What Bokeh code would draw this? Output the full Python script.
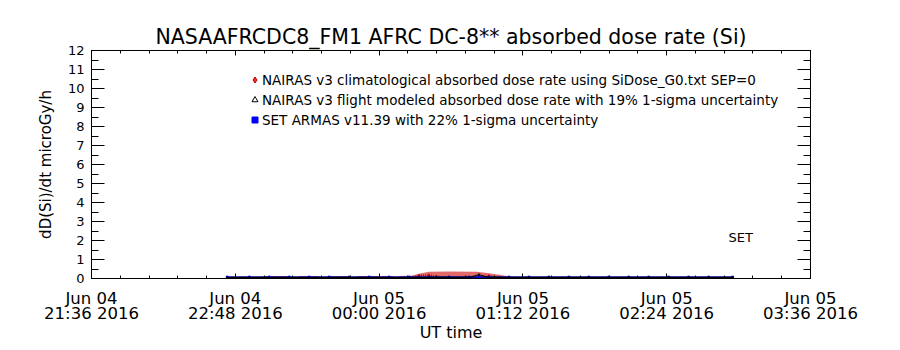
import pandas as pd
from bokeh.plotting import figure
from bokeh.models import (FixedTicker, LinearAxis, DatetimeAxis, Legend, LegendItem,
                          ColumnDataSource, Range1d, CustomLabelingPolicy)
from bokeh.embed import file_html
from bokeh.resources import INLINE
from bokeh.core.properties import value

title_text = "NASAAFRCDC8_FM1 AFRC DC-8** absorbed dose rate (Si)"
x_label = "UT time"
y_label = "dD(Si)/dt microGy/h"

x_ticks = ["2016-06-04 21:36", "2016-06-04 22:48", "2016-06-05 00:00",
           "2016-06-05 01:12", "2016-06-05 02:24", "2016-06-05 03:36"]
x_tick_labels = ["Jun 04\n21:36 2016", "Jun 04\n22:48 2016", "Jun 05\n00:00 2016",
                 "Jun 05\n01:12 2016", "Jun 05\n02:24 2016", "Jun 05\n03:36 2016"]
y_ticks = [0, 1, 2, 3, 4, 5, 6, 7, 8, 9, 10, 11, 12]

legend_labels = [
    "NAIRAS v3 climatological absorbed dose rate using SiDose_G0.txt SEP=0",
    "NAIRAS v3 flight modeled absorbed dose rate with 19% 1-sigma uncertainty",
    "SET ARMAS v11.39 with 22% 1-sigma uncertainty",
]

# NAIRAS climatological uncertainty band (upper edge)
band_times = ["2016-06-04 22:44", "2016-06-04 23:02", "2016-06-04 23:02", "2016-06-04 23:15",
              "2016-06-04 23:15", "2016-06-04 23:20", "2016-06-04 23:20", "2016-06-04 23:30",
              "2016-06-04 23:30", "2016-06-04 23:35", "2016-06-04 23:35", "2016-06-04 23:44",
              "2016-06-04 23:44", "2016-06-04 23:49", "2016-06-04 23:49", "2016-06-05 00:07",
              "2016-06-05 00:07", "2016-06-05 00:10", "2016-06-05 00:10", "2016-06-05 00:16",
              "2016-06-05 00:20", "2016-06-05 00:25", "2016-06-05 00:35", "2016-06-05 00:49",
              "2016-06-05 00:55", "2016-06-05 01:00", "2016-06-05 01:03", "2016-06-05 01:06",
              "2016-06-05 01:06", "2016-06-05 02:57"]
band_upper = [0.05, 0.05, 0.13, 0.13,
              0.05, 0.05, 0.13, 0.13,
              0.05, 0.05, 0.13, 0.13,
              0.05, 0.05, 0.13, 0.13,
              0.05, 0.05, 0.13, 0.14,
              0.25, 0.36, 0.37, 0.36,
              0.28, 0.2, 0.14, 0.12,
              0.05, 0.05]
band_lower = [0.0, 0.0, 0.0, 0.0, 0.0, 0.0, 0.0, 0.0, 0.0, 0.0,
              0.0, 0.0, 0.0, 0.0, 0.0, 0.0, 0.0, 0.0, 0.0, 0.0,
              0.0, 0.0, 0.0, 0.0, 0.0, 0.0, 0.0, 0.0, 0.0, 0.0]

flight_times = ["2016-06-04 22:44", "2016-06-04 22:55", "2016-06-04 23:05", "2016-06-04 23:15",
                "2016-06-04 23:25", "2016-06-04 23:35", "2016-06-04 23:45", "2016-06-04 23:55",
                "2016-06-05 00:05", "2016-06-05 00:15", "2016-06-05 00:20", "2016-06-05 00:25",
                "2016-06-05 00:35", "2016-06-05 00:45", "2016-06-05 00:50", "2016-06-05 00:55",
                "2016-06-05 01:05", "2016-06-05 01:15", "2016-06-05 01:25", "2016-06-05 01:35",
                "2016-06-05 01:45", "2016-06-05 01:55", "2016-06-05 02:05", "2016-06-05 02:15",
                "2016-06-05 02:25", "2016-06-05 02:35", "2016-06-05 02:45", "2016-06-05 02:57"]
clim_vals = [0.0, 0.0, 0.0, 0.0, 0.0, 0.0, 0.0, 0.0,
             0.0, 0.02, 0.15, 0.16, 0.02, 0.02, 0.03, 0.12,
             0.0, 0.0, 0.0, 0.0, 0.0, 0.0, 0.0, 0.0,
             0.0, 0.0, 0.0, 0.0]
model_vals = [0.05, 0.05, 0.05, 0.05, 0.05, 0.05, 0.05, 0.05,
              0.05, 0.05, 0.05, 0.06, 0.06, 0.06, 0.2, 0.06,
              0.05, 0.05, 0.05, 0.05, 0.05, 0.05, 0.05, 0.05,
              0.05, 0.05, 0.05, 0.05]
set_vals = [0.07, 0.07, 0.07, 0.07, 0.07, 0.07, 0.07, 0.07,
            0.07, 0.07, 0.07, 0.07, 0.07, 0.07, 0.07, 0.07,
            0.07, 0.07, 0.07, 0.07, 0.07, 0.07, 0.07, 0.07,
            0.07, 0.07, 0.07, 0.07]

set_label = "SET"
set_label_time = "2016-06-05 02:55"
set_label_y = 2.15

FONT = "DejaVu Sans"

band_src = ColumnDataSource(dict(t=pd.to_datetime(band_times), up=band_upper, lo=band_lower))
fl_src = ColumnDataSource(dict(t=pd.to_datetime(flight_times), clim=clim_vals,
                               model=model_vals, set=set_vals))

tick_ms = [int(pd.Timestamp(s).value // 10**6) for s in x_ticks]
minor_ms = [int(ts.value // 10**6) for ts in pd.date_range(x_ticks[0], x_ticks[-1], freq="864s")]

p = figure(width=900, height=350, output_backend="svg", toolbar_location=None,
           x_axis_type=None, y_axis_type=None,
           x_range=Range1d(pd.Timestamp(x_ticks[0]), pd.Timestamp(x_ticks[-1])),
           y_range=Range1d(y_ticks[0], y_ticks[-1]),
           min_border_left=91, min_border_right=90, min_border_top=50, min_border_bottom=72)
p.xgrid.visible = False
p.ygrid.visible = False
p.outline_line_color = "black"
p.background_fill_color = "white"
p.border_fill_color = "white"

p.title.text = title_text
p.title.align = "center"
p.title.text_font = FONT
p.title.text_font_size = "20.5px"
p.title.text_font_style = "normal"
p.title.text_color = "black"
p.title.standoff = 4

xt = FixedTicker(ticks=tick_ms, minor_ticks=minor_ms)
yt = FixedTicker(ticks=y_ticks, minor_ticks=[v + 0.5 for v in y_ticks[:-1]])
no_labels = "return new Set()"

xb = DatetimeAxis(ticker=xt, axis_label=x_label)
xb.major_label_overrides = {k: v for k, v in zip(tick_ms, x_tick_labels)}
xb.major_tick_in = 5
xb.major_tick_out = 0
xb.minor_tick_in = 3
xb.minor_tick_out = 0
xb.axis_line_color = "black"
xb.major_label_text_font = FONT
xb.major_label_text_font_size = "16.5px"
xb.major_label_text_color = "black"
xb.major_label_text_line_height = 0.8
xb.major_label_standoff = 10
xb.axis_label_text_font = FONT
xb.axis_label_text_font_size = "16px"
xb.axis_label_text_font_style = "normal"
xb.axis_label_text_color = "black"
xb.axis_label_standoff = -3
p.add_layout(xb, "below")

xa = DatetimeAxis(ticker=xt, major_label_policy=CustomLabelingPolicy(code=no_labels))
xa.major_label_text_font_size = "0px"
xa.major_tick_in = 5
xa.major_tick_out = 0
xa.minor_tick_in = 3
xa.minor_tick_out = 0
xa.major_label_standoff = 0
p.add_layout(xa, "above")

yl = LinearAxis(ticker=yt, axis_label=y_label)
yl.major_tick_in = 13
yl.major_tick_out = 0
yl.minor_tick_in = 7
yl.minor_tick_out = 0
yl.major_label_text_font = FONT
yl.major_label_text_font_size = "13px"
yl.major_label_text_color = "black"
yl.major_label_standoff = 7
yl.axis_label_text_font = FONT
yl.axis_label_text_font_size = "15px"
yl.axis_label_text_font_style = "normal"
yl.axis_label_text_color = "black"
yl.axis_label_standoff = 10
p.add_layout(yl, "left")

yr = LinearAxis(ticker=yt, major_label_policy=CustomLabelingPolicy(code=no_labels))
yr.major_label_text_font_size = "0px"
yr.major_tick_in = 13
yr.major_tick_out = 0
yr.minor_tick_in = 7
yr.minor_tick_out = 0
yr.major_label_standoff = 0
p.add_layout(yr, "right")

p.varea(x="t", y1="lo", y2="up", source=band_src, fill_color="#e46a6a", fill_alpha=1.0)
p.line(x="t", y="clim", source=fl_src, line_color="#d00000", line_width=2, line_dash="1 1")
r_clim = p.scatter(x="t", y="clim", source=fl_src, marker="diamond", size=3,
                   fill_color="#e03030", line_color="#c00000")
p.line(x="t", y="set", source=fl_src, line_color="#000090", line_width=2)
r_set = p.scatter(x="t", y="set", source=fl_src, marker="square", size=2,
                  fill_color="#0000ff", line_color="#0000ff")
p.line(x="t", y="model", source=fl_src, line_color="black", line_width=1)
r_model = p.scatter(x="t", y="model", source=fl_src, marker="triangle", size=2,
                    fill_color=None, line_color="black")

p.text(x=[pd.Timestamp(set_label_time)], y=[set_label_y], text=[set_label],
       text_font=value(FONT), text_font_size="13px", text_baseline="middle",
       text_align="left", text_color="black")

legend = Legend(items=[LegendItem(label=legend_labels[0], renderers=[r_clim]),
                       LegendItem(label=legend_labels[1], renderers=[r_model]),
                       LegendItem(label=legend_labels[2], renderers=[r_set])],
                location=(156, 149), border_line_color=None, background_fill_alpha=0,
                glyph_width=15, glyph_height=15, label_height=19, spacing=1,
                padding=0, margin=0, label_standoff=0,
                label_text_font=FONT, label_text_font_size="13.5px",
                label_text_color="black")
p.add_layout(legend, "center")

open("out.html", "w").write(file_html(p, INLINE))
